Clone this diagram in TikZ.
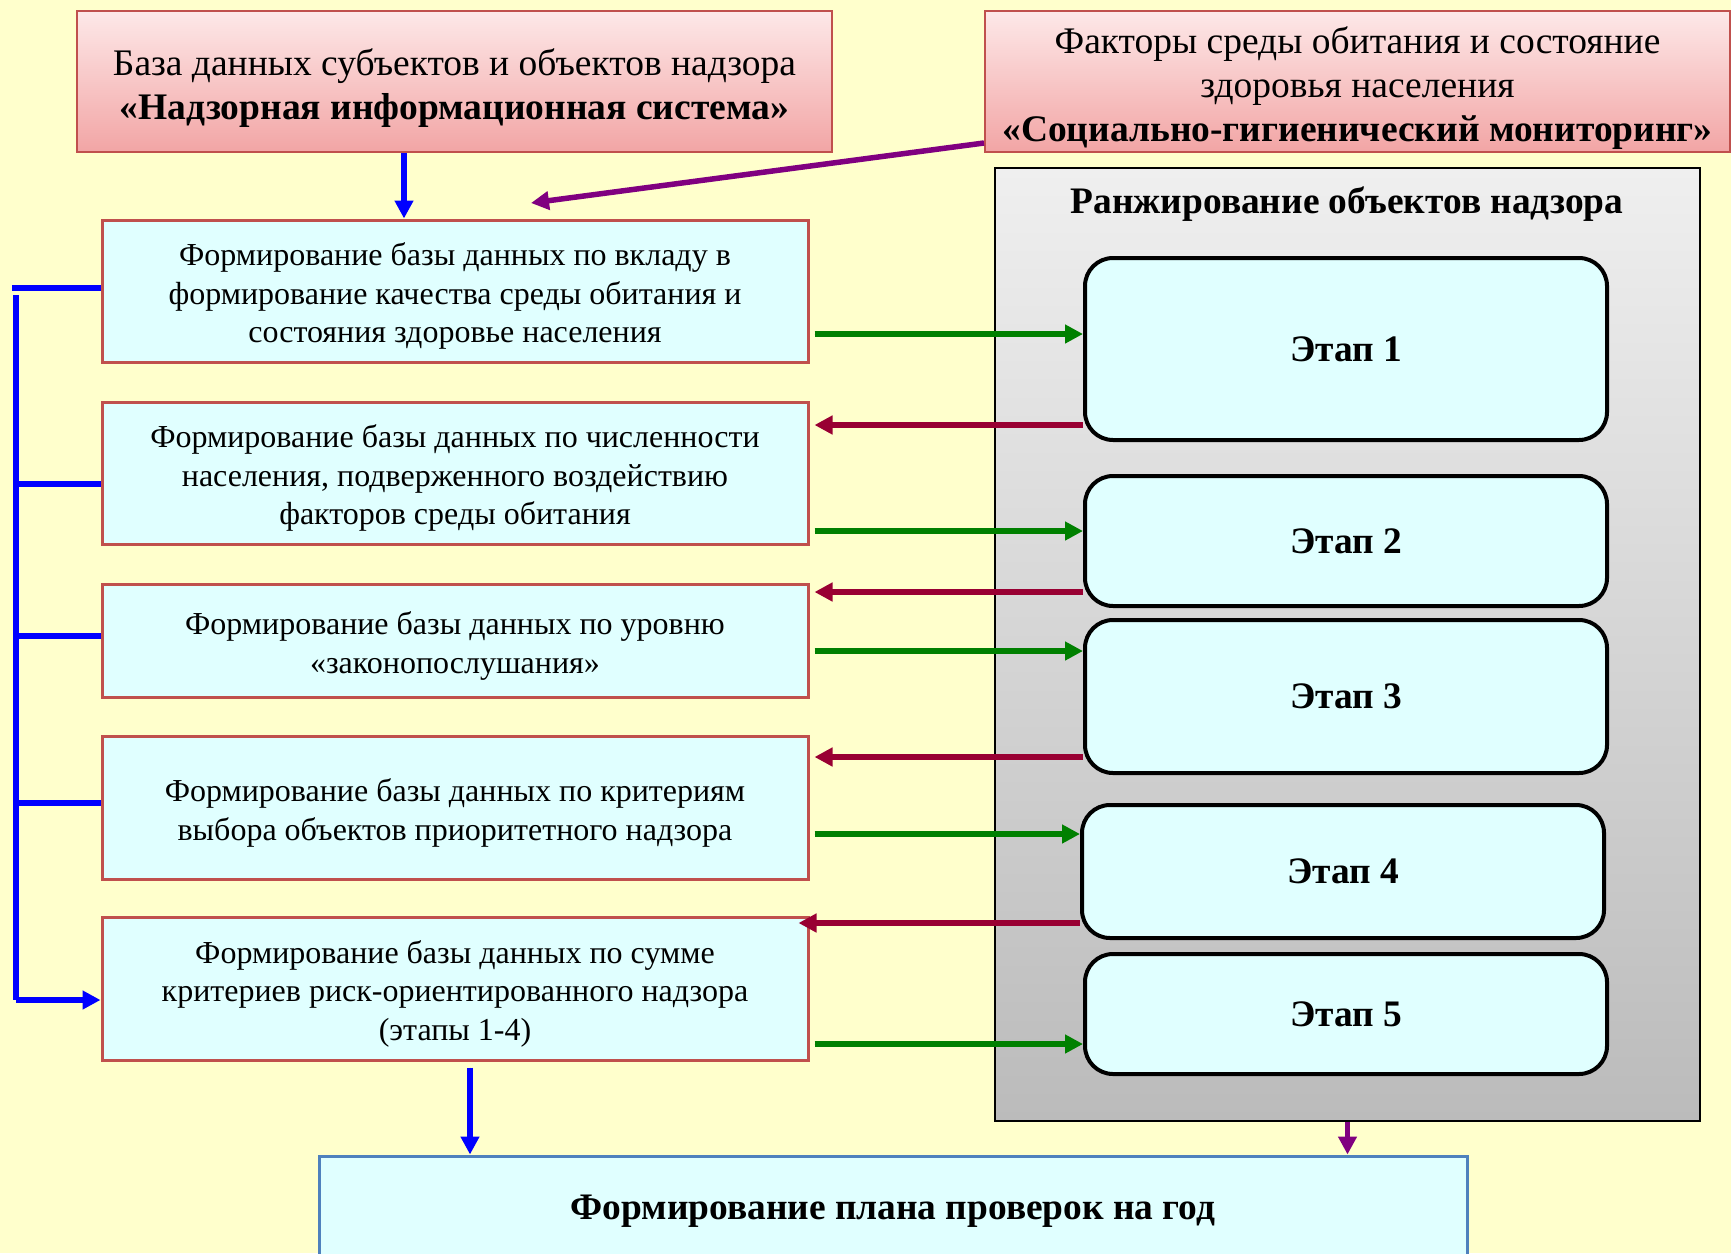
\documentclass[tikz,border=0pt]{standalone}
\usepackage{fontspec}
\setmainfont{Liberation Serif}
\usetikzlibrary{arrows.meta}
\definecolor{bg}{HTML}{FFFFCC}
\definecolor{cyanfill}{HTML}{E0FFFF}
\definecolor{redborder}{HTML}{C0504D}
\definecolor{pinktop}{HTML}{FDE8E8}
\definecolor{pinkbot}{HTML}{F2A5A5}
\definecolor{graytop}{HTML}{EFEFEF}
\definecolor{graybot}{HTML}{BBBBBB}
\definecolor{arrgreen}{HTML}{008000}
\definecolor{arrred}{HTML}{990033}
\definecolor{arrblue}{HTML}{0000FF}
\definecolor{arrpurple}{HTML}{800080}
\definecolor{planborder}{HTML}{4F81BD}
\newcommand{\tstr}{\rule{0pt}{1.08em}}
\newcommand{\bstr}{\rule[-0.25em]{0pt}{0pt}}
\begin{document}
\begin{tikzpicture}[x=1pt,y=-1pt,
 topbox/.style={draw=redborder, line width=2pt, top color=pinktop, bottom color=pinkbot, inner sep=0pt, align=center, font=\fontsize{37.5}{44}\selectfont},
 leftbox/.style={draw=redborder, line width=3pt, fill=cyanfill, minimum width=706pt, inner sep=0pt, align=center, font=\fontsize{32}{38.6}\selectfont},
 etapbox/.style={draw=black, line width=4pt, fill=cyanfill, rounded corners=28pt, minimum width=522pt, inner sep=0pt, font=\bfseries\fontsize{37.4}{42}\selectfont},
 panelbox/.style={draw=black, line width=1.5pt, top color=graytop, bottom color=graybot, inner sep=0pt},
 planbox/.style={draw=planborder, line width=3pt, fill=cyanfill, inner sep=0pt, font=\bfseries\fontsize{37.4}{42}\selectfont},
 tip/.style={-{Triangle[length=18pt,width=18pt]}},
 garrow/.style={tip, draw=arrgreen, fill=arrgreen, line width=5.5pt},
 rarrow/.style={tip, draw=arrred, fill=arrred, line width=5.5pt},
 barrow/.style={tip, draw=arrblue, fill=arrblue, line width=5.5pt},
 parrow/.style={tip, draw=arrpurple, fill=arrpurple, line width=5.5pt},
 bline/.style={draw=arrblue, line width=6pt}
]
\useasboundingbox (0,0) rectangle (1731,1253);
\fill[bg] (0,0) rectangle (1731,1253);
\clip (0,0) rectangle (1731,1253);

% top boxes
\node[topbox, minimum width=755pt, minimum height=141pt] (top1) at (454.5,81.5)
  {\tstr База данных субъектов и объектов надзора\\\textbf{«Надзорная информационная система»}\bstr};
\node[topbox, minimum width=745pt, minimum height=141pt] (top2) at (1357.5,81.5)
  {\tstr Факторы среды обитания и состояние\\здоровья населения\\\textbf{«Социально-гигиенический мониторинг»}\bstr};

% ranking panel
\node[panelbox, minimum width=705pt, minimum height=953pt] (panel) at (1347.5,644.5) {};
\node[font=\bfseries\fontsize{37.4}{42}\selectfont] (ptitle) at (1347,204) {Ранжирование объектов надзора};

\node[etapbox, minimum height=182pt] (E1) at (1346,349) {Этап 1};
\node[etapbox, minimum height=130pt] (E2) at (1346,541) {Этап 2};
\node[etapbox, minimum height=153pt] (E3) at (1346,696.5) {Этап 3};
\node[etapbox, minimum height=133pt] (E4) at (1343,871.5) {Этап 4};
\node[etapbox, minimum height=120pt] (E5) at (1346,1014) {Этап 5};

% left boxes
\node[leftbox, minimum height=142pt] (A) at (455,291)
  {\tstr Формирование базы данных по вкладу в\\формирование качества среды обитания и\\состояния здоровье населения\bstr};
\node[leftbox, minimum height=142pt] (B) at (455,473)
  {\tstr Формирование базы данных по численности\\населения, подверженного воздействию\\факторов среды обитания\bstr};
\node[leftbox, minimum height=113pt] (C) at (455,640.5)
  {\tstr Формирование базы данных по уровню\\«законопослушания»\bstr};
\node[leftbox, minimum height=143pt] (D) at (455,807.5)
  {\tstr Формирование базы данных по критериям\\выбора объектов приоритетного надзора\bstr};
\node[leftbox, minimum height=143pt] (E) at (455,988.5)
  {\tstr Формирование базы данных по сумме\\критериев риск-ориентированного надзора\\(этапы 1-4)\bstr};

% plan box
\node[planbox, minimum width=1148pt, minimum height=110pt] (plan) at (893,1211)
  {Формирование плана проверок на год};

% coordinates
\coordinate (bx) at (404,0);
\coordinate (pstart) at (0,143);
\coordinate (pend) at (531,203);
\coordinate (ex) at (470,0);
\coordinate (g1) at (0,334);
\coordinate (g2) at (0,531);
\coordinate (g3) at (0,651);
\coordinate (g4) at (0,834);
\coordinate (g5) at (0,1044);
\coordinate (r1) at (0,425);
\coordinate (r2) at (0,592);
\coordinate (r3) at (0,757);
\coordinate (r4) at (0,923);
\coordinate (k0) at (12,288);
\coordinate (vtop) at (16,295);
\coordinate (vbot) at (16,1000);
\coordinate (k2) at (16,484);
\coordinate (k3) at (16,636);
\coordinate (k4) at (16,803);

% top arrows
\draw[barrow] (top1.south -| bx) -- (A.north -| bx);
\draw[parrow] (top2.west |- pstart) -- (pend);

% green arrows
\draw[garrow, shorten <=5pt] (A.east |- g1) -- (E1.west |- g1);
\draw[garrow, shorten <=5pt] (B.east |- g2) -- (E2.west |- g2);
\draw[garrow, shorten <=5pt] (C.east |- g3) -- (E3.west |- g3);
\draw[garrow, shorten <=5pt] (D.east |- g4) -- (E4.west |- g4);
\draw[garrow, shorten <=5pt] (E.east |- g5) -- (E5.west |- g5);

% red arrows
\draw[rarrow, shorten >=5pt] (E1.west |- r1) -- (B.east |- r1);
\draw[rarrow, shorten >=5pt] (E2.west |- r2) -- (C.east |- r2);
\draw[rarrow, shorten >=5pt] (E3.west |- r3) -- (D.east |- r3);
\draw[rarrow, shorten >=-11pt] (E4.west |- r4) -- (E.east |- r4);

% left bracket
\draw[bline] (k0) -- (A.west |- k0);
\draw[bline] (vtop) -- (vbot);
\draw[bline] (k2) -- (B.west |- k2);
\draw[bline] (k3) -- (C.west |- k3);
\draw[bline] (k4) -- (D.west |- k4);
\draw[barrow] (vbot) -- (E.west |- vbot);

% bottom arrows
\draw[barrow, shorten <=6pt] (E.south -| ex) -- (plan.north -| ex);
\draw[parrow] (panel.south) -- (plan.north -| panel.south);
\end{tikzpicture}
\end{document}
